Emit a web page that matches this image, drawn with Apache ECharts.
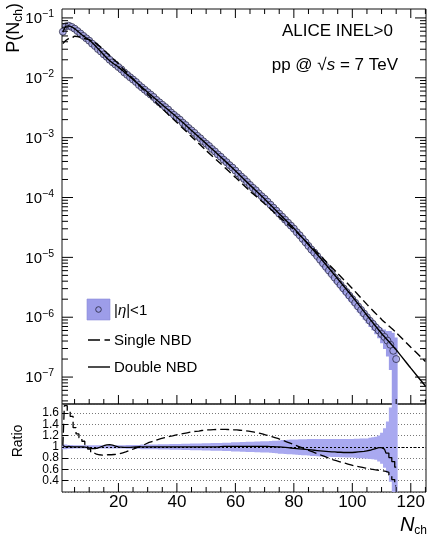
<!DOCTYPE html>
<html>
<head>
<meta charset="utf-8">
<script src="https://cdn.jsdelivr.net/npm/echarts@6/dist/echarts.min.js"></script>
<style>
  html, body { margin: 0; padding: 0; background: #fff; }
  #chart { width: 428px; height: 535px; }
</style>
</head>
<body>
<div id="chart"></div>
<script>
// Charged-particle multiplicity N_ch in |eta|<1, pp at 7 TeV, INEL>0
const nch = Array.from({ length: 115 }, (_, i) => i + 1);

// Measured P(N_ch), one value per N_ch bin
const probability = [
  5.89e-2, 7.24e-2, 7.41e-2, 7.08e-2, 6.61e-2, 6.03e-2, 5.50e-2, 5.01e-2, 4.57e-2, 4.17e-2,
  3.72e-2, 3.39e-2, 3.02e-2, 2.75e-2, 2.46e-2, 2.24e-2, 2.00e-2, 1.82e-2, 1.66e-2, 1.51e-2,
  1.38e-2, 1.23e-2, 1.12e-2, 1.02e-2, 9.33e-3, 8.51e-3, 7.59e-3, 6.92e-3, 6.31e-3, 5.75e-3,
  5.25e-3, 4.79e-3, 4.27e-3, 3.89e-3, 3.55e-3, 3.24e-3, 2.95e-3, 2.63e-3, 2.40e-3, 2.19e-3,
  2.00e-3, 1.78e-3, 1.62e-3, 1.45e-3, 1.32e-3, 1.20e-3, 1.07e-3, 9.77e-4, 8.71e-4, 7.94e-4,
  7.24e-4, 6.46e-4, 5.89e-4, 5.25e-4, 4.79e-4, 4.27e-4, 3.89e-4, 3.47e-4, 3.16e-4, 2.82e-4,
  2.51e-4, 2.24e-4, 2.04e-4, 1.82e-4, 1.62e-4, 1.45e-4, 1.32e-4, 1.17e-4, 1.05e-4, 9.55e-5,
  8.51e-5, 7.59e-5, 6.76e-5, 6.03e-5, 5.37e-5, 4.79e-5, 4.27e-5, 3.80e-5, 3.39e-5, 3.02e-5,
  2.63e-5, 2.34e-5, 2.04e-5, 1.78e-5, 1.55e-5, 1.35e-5, 1.20e-5, 1.05e-5, 9.12e-6, 7.94e-6,
  6.92e-6, 6.03e-6, 5.25e-6, 4.57e-6, 3.98e-6, 3.47e-6, 3.02e-6, 2.63e-6, 2.29e-6, 2.00e-6,
  1.74e-6, 1.51e-6, 1.32e-6, 1.15e-6, 1.00e-6, 8.71e-7, 7.76e-7, 6.76e-7, 6.03e-7, 5.25e-7,
  4.68e-7, 4.07e-7, 3.47e-7, 2.75e-7, 2.00e-7
];

// Relative uncertainty of each bin (upward / downward)
const errUp = [
  0.04, 0.04, 0.035, 0.035, 0.03, 0.03, 0.03, 0.03, 0.03, 0.03,
  0.03, 0.03, 0.03, 0.03, 0.03, 0.03, 0.03, 0.03, 0.03, 0.03,
  0.03, 0.03, 0.035, 0.035, 0.035, 0.035, 0.035, 0.04, 0.04, 0.04,
  0.04, 0.04, 0.04, 0.045, 0.045, 0.045, 0.045, 0.05, 0.05, 0.05,
  0.05, 0.055, 0.055, 0.055, 0.06, 0.06, 0.06, 0.06, 0.065, 0.065,
  0.065, 0.07, 0.07, 0.07, 0.07, 0.075, 0.075, 0.075, 0.08, 0.08,
  0.08, 0.085, 0.085, 0.09, 0.09, 0.09, 0.095, 0.095, 0.1, 0.1,
  0.1, 0.105, 0.11, 0.11, 0.115, 0.12, 0.12, 0.125, 0.13, 0.13,
  0.13, 0.135, 0.135, 0.135, 0.14, 0.14, 0.14, 0.14, 0.14, 0.14,
  0.14, 0.14, 0.14, 0.14, 0.14, 0.14, 0.14, 0.14, 0.14, 0.14,
  0.145, 0.145, 0.15, 0.15, 0.15, 0.16, 0.17, 0.18, 0.2, 0.25,
  0.33, 0.45, 0.7, 1.0, 1.3
];
const errDown = [
  0.04, 0.04, 0.035, 0.035, 0.03, 0.03, 0.03, 0.03, 0.03, 0.03,
  0.03, 0.03, 0.03, 0.03, 0.03, 0.03, 0.03, 0.03, 0.03, 0.03,
  0.03, 0.03, 0.035, 0.035, 0.035, 0.035, 0.035, 0.04, 0.04, 0.04,
  0.04, 0.04, 0.04, 0.045, 0.045, 0.045, 0.045, 0.05, 0.05, 0.05,
  0.05, 0.055, 0.055, 0.055, 0.06, 0.06, 0.06, 0.06, 0.065, 0.065,
  0.065, 0.07, 0.07, 0.07, 0.07, 0.075, 0.075, 0.075, 0.08, 0.08,
  0.08, 0.085, 0.085, 0.09, 0.09, 0.09, 0.095, 0.095, 0.1, 0.1,
  0.1, 0.105, 0.11, 0.115, 0.12, 0.12, 0.125, 0.13, 0.13, 0.135,
  0.14, 0.145, 0.15, 0.15, 0.155, 0.16, 0.16, 0.165, 0.17, 0.17,
  0.175, 0.175, 0.18, 0.18, 0.18, 0.185, 0.185, 0.19, 0.19, 0.19,
  0.195, 0.2, 0.2, 0.205, 0.21, 0.215, 0.22, 0.23, 0.26, 0.3,
  0.37, 0.46, 0.62, 0.99, 0.99
];

// Single NBD fit
const singleN = [1, 2, 3, 4, 5, 6, 7, 8, 10, 12, 14, 16, 18, 20, 22, 25, 30, 35, 40, 45, 50, 55, 60,
  65, 70, 75, 80, 85, 90, 95, 100, 105, 110, 115, 120, 125];
const singleP = [3.72e-2, 4.19e-2, 4.52e-2, 4.59e-2, 4.93e-2, 4.90e-2, 4.74e-2, 4.56e-2, 4.35e-2,
  3.89e-2, 3.22e-2, 2.61e-2, 2.10e-2, 1.72e-2, 1.35e-2, 9.62e-3, 5.33e-3, 3.06e-3, 1.79e-3,
  1.04e-3, 6.11e-4, 3.66e-4, 2.17e-4, 1.28e-4, 7.89e-5, 4.75e-5, 2.93e-5, 1.67e-5, 9.57e-6,
  5.38e-6, 3.02e-6, 1.64e-6, 9.20e-7, 5.55e-7, 3.16e-7, 1.82e-7];

// Double NBD fit
const doubleN = [1, 2, 3, 4, 5, 6, 7, 8, 10, 12, 14, 16, 18, 20, 22, 25, 30, 35, 40, 45, 50, 55, 60,
  65, 70, 75, 80, 85, 90, 95, 100, 105, 110, 115, 120, 125];
const doubleP = [5.75e-2, 7.24e-2, 7.33e-2, 7.08e-2, 6.61e-2, 6.03e-2, 5.50e-2, 5.01e-2, 4.27e-2,
  3.47e-2, 2.72e-2, 2.15e-2, 1.77e-2, 1.51e-2, 1.245e-2, 9.33e-3, 5.75e-3, 3.55e-3, 2.19e-3,
  1.32e-3, 7.94e-4, 4.76e-4, 2.79e-4, 1.61e-4, 9.46e-5, 5.37e-5, 3.08e-5, 1.63e-5, 8.63e-6,
  4.40e-6, 2.22e-6, 1.08e-6, 5.36e-7, 2.85e-7, 1.41e-7, 7.08e-8];

// Data / fit ratios per N_ch bin
const ratioSingle = [
  1.02, 1.73, 1.64, 1.54, 1.34, 1.23, 1.16, 1.10, 1.04, 0.96,
  0.90, 0.87, 0.86, 0.855, 0.855, 0.86, 0.86, 0.865, 0.87, 0.88,
  0.895, 0.91, 0.93, 0.95, 0.97, 0.99, 1.01, 1.03, 1.055, 1.08,
  1.095, 1.11, 1.13, 1.145, 1.16, 1.17, 1.185, 1.195, 1.21, 1.22,
  1.23, 1.24, 1.25, 1.26, 1.27, 1.275, 1.28, 1.29, 1.295, 1.30,
  1.303, 1.306, 1.308, 1.31, 1.31, 1.31, 1.308, 1.306, 1.303, 1.30,
  1.295, 1.29, 1.285, 1.278, 1.27, 1.26, 1.25, 1.24, 1.225, 1.21,
  1.195, 1.18, 1.165, 1.15, 1.13, 1.11, 1.09, 1.07, 1.05, 1.03,
  1.01, 0.99, 0.97, 0.95, 0.93, 0.91, 0.89, 0.87, 0.85, 0.83,
  0.81, 0.79, 0.77, 0.755, 0.74, 0.725, 0.71, 0.695, 0.68, 0.665,
  0.655, 0.645, 0.635, 0.625, 0.615, 0.605, 0.597, 0.59, 0.582, 0.575,
  0.565, 0.55, 0.50, 0.42, 0.31
];
const ratioDouble = [
  1.02, 1.0, 1.01, 1.0, 1.0, 1.0, 1.0, 1.0, 0.99, 0.98,
  0.97, 0.97, 0.98, 1.0, 1.02, 1.035, 1.04, 1.03, 1.015, 1.0,
  0.995, 0.99, 0.99, 0.99, 0.995, 1.0, 1.0, 1.0, 1.0, 1.0,
  1.0, 1.0, 1.0, 1.0, 1.0, 1.0, 1.0, 1.0, 1.0, 1.0,
  1.0, 1.0, 1.0, 1.0, 1.0, 1.0, 1.0, 1.0, 1.0, 1.0,
  1.0, 1.0, 1.0, 1.0, 1.005, 1.01, 1.01, 1.01, 1.01, 1.01,
  1.01, 1.01, 1.01, 1.01, 1.01, 1.01, 1.01, 1.01, 1.01, 1.01,
  1.01, 1.005, 1.005, 1.0, 1.0, 0.995, 0.99, 0.985, 0.98, 0.975,
  0.97, 0.965, 0.96, 0.955, 0.95, 0.945, 0.94, 0.935, 0.93, 0.925,
  0.92, 0.915, 0.91, 0.91, 0.905, 0.905, 0.9, 0.9, 0.9, 0.9,
  0.905, 0.91, 0.915, 0.92, 0.93, 0.94, 0.955, 0.97, 0.985, 0.985,
  0.96, 0.89, 0.81, 0.74, 0.64
];

// Axis ranges
const X_MIN = 0.7, X_MAX = 125.2;
const P_MIN = 3.55e-8, P_MAX = 0.141;
const R_MIN = 0.2, R_MAX = 1.76;
const xTickLabels = [20, 40, 60, 80, 100, 120];

const FONT = '"Liberation Sans", Arial, Helvetica, sans-serif';
const BAND = '#9d9de9';
const BAND_RATIO = '#a9a9f0';
const MARK_FILL = '#a2a2e6';
const MARK_EDGE = '#2e2e4a';

function seg(x1, y1, x2, y2, w) {
  return { type: 'line', shape: { x1, y1, x2, y2 }, style: { stroke: '#000', lineWidth: w || 1 } };
}

// Stepped error band: one box per bin, joined into a single outline
function bandOutline(api, hi, lo) {
  const up = [], down = [];
  for (let i = 0; i < nch.length; i++) {
    const a = Math.max(nch[i] - 0.5, X_MIN), b = nch[i] + 0.5;
    up.push(api.coord([a, hi[i]]), api.coord([b, hi[i]]));
    down.push(api.coord([a, lo[i]]), api.coord([b, lo[i]]));
  }
  return up.concat(down.reverse());
}

const topHi = probability.map((p, i) => Math.min(p * (1 + errUp[i]), P_MAX));
const topLo = probability.map((p, i) => Math.max(p * (1 - errDown[i]), P_MIN));
const ratioHi = errUp.map(e => Math.min(1 + e, R_MAX));
const ratioLo = errDown.map(e => Math.max(1 - e, R_MIN));

// Log-axis frame ticks, decade labels and N_ch ticks of the upper pad
function topFrame(params, api) {
  const children = [];
  const [xl, yb] = api.coord([X_MIN, P_MIN]);
  const [xr, yt] = api.coord([X_MAX, P_MAX]);
  for (let d = -8; d <= 0; d++) {
    for (let m = 1; m <= 9; m++) {
      const v = m * Math.pow(10, d);
      if (v < P_MIN || v > P_MAX) continue;
      const y = api.coord([X_MIN, v])[1];
      const len = m === 1 ? 11 : 6;
      children.push(seg(xl, y, xl + len, y), seg(xr - len, y, xr, y));
      if (m === 1) {
        children.push({
          type: 'text', x: xl - 8, y: y + 1,
          style: {
            text: '{b|10}{s|\u2212' + (-d) + '}',
            align: 'right', verticalAlign: 'middle',
            textAlign: 'right', textVerticalAlign: 'middle',
            rich: {
              b: { fontSize: 15, fontFamily: FONT, color: '#000', lineHeight: 20 },
              s: { fontSize: 10.5, fontFamily: FONT, color: '#000', verticalAlign: 'top', lineHeight: 11 }
            }
          }
        });
      }
    }
  }
  for (let n = 5; n <= X_MAX; n += 5) {
    const x = api.coord([n, P_MIN])[0];
    const len = n % 20 === 0 ? 9 : 5;
    children.push(seg(x, yb, x, yb - len), seg(x, yt, x, yt + len));
  }
  return { type: 'group', children };
}

// N_ch ticks and labels of the ratio pad
function ratioFrame(params, api) {
  const children = [];
  const yb = api.coord([X_MIN, R_MIN])[1];
  for (let n = 5; n <= X_MAX; n += 5) {
    const x = api.coord([n, R_MIN])[0];
    const len = n % 20 === 0 ? 9 : 5;
    children.push(seg(x, yb, x, yb - len));
  }
  xTickLabels.forEach(n => {
    const x = api.coord([n, R_MIN])[0];
    children.push({
      type: 'text', x: x, y: yb + 10,
      style: {
        text: String(n), font: '17px ' + FONT, fill: '#000',
        align: 'center', verticalAlign: 'middle', textAlign: 'center', textVerticalAlign: 'middle'
      }
    });
  });
  return { type: 'group', children };
}

const chart = echarts.init(document.getElementById('chart'), null, { renderer: 'canvas' });

const hiddenAxis = {
  axisLine: { show: false }, axisTick: { show: false },
  axisLabel: { show: false }, splitLine: { show: false }
};

chart.setOption({
  animation: false,
  backgroundColor: '#fff',
  grid: [
    { left: 62, top: 9, width: 364, height: 395, show: true, borderColor: '#111', borderWidth: 1, backgroundColor: 'transparent' },
    { left: 62, top: 404, width: 364, height: 88, show: true, borderColor: '#111', borderWidth: 1, backgroundColor: 'transparent' }
  ],
  xAxis: [
    Object.assign({ gridIndex: 0, type: 'value', min: X_MIN, max: X_MAX }, hiddenAxis),
    Object.assign({ gridIndex: 1, type: 'value', min: X_MIN, max: X_MAX }, hiddenAxis)
  ],
  yAxis: [
    Object.assign({ gridIndex: 0, type: 'log', logBase: 10, min: P_MIN, max: P_MAX }, hiddenAxis),
    {
      gridIndex: 1, type: 'value', min: R_MIN, max: R_MAX, interval: 0.2,
      axisLine: { show: false },
      axisTick: { show: true, inside: true, length: 6, lineStyle: { color: '#000' } },
      axisLabel: {
        fontSize: 12, fontFamily: FONT, color: '#000', margin: 3,
        showMinLabel: false, showMaxLabel: false,
        formatter: v => (Math.abs(v - 1) < 1e-6 ? '1' : v.toFixed(1))
      },
      splitLine: { show: true, lineStyle: { type: [1, 2], color: '#555', width: 0.8 } }
    }
  ],
  series: [
    {
      type: 'custom', xAxisIndex: 0, yAxisIndex: 0, silent: true, z: 1,
      data: [[X_MIN, P_MIN]],
      renderItem: (params, api) => ({
        type: 'polygon', shape: { points: bandOutline(api, topHi, topLo) },
        style: { fill: BAND, stroke: null }
      })
    },
    {
      name: '|η|<1', type: 'scatter', xAxisIndex: 0, yAxisIndex: 0, z: 2,
      symbol: 'circle', symbolSize: 7,
      itemStyle: { color: MARK_FILL, borderColor: MARK_EDGE, borderWidth: 1 },
      data: nch.map((n, i) => [n, probability[i]])
    },
    {
      name: 'Single NBD', type: 'line', xAxisIndex: 0, yAxisIndex: 0, z: 3,
      showSymbol: false, smooth: 0.2,
      lineStyle: { color: '#000', width: 1.4, type: [8, 4] },
      data: singleN.map((n, i) => [n, singleP[i]])
    },
    {
      name: 'Double NBD', type: 'line', xAxisIndex: 0, yAxisIndex: 0, z: 3,
      showSymbol: false, smooth: 0.2,
      lineStyle: { color: '#000', width: 1.4 },
      data: doubleN.map((n, i) => [n, doubleP[i]])
    },
    {
      type: 'custom', xAxisIndex: 0, yAxisIndex: 0, silent: true, z: 6,
      data: [[X_MIN, P_MIN]], renderItem: topFrame
    },
    {
      type: 'custom', xAxisIndex: 1, yAxisIndex: 1, silent: true, z: 1,
      data: [[X_MIN, 1]],
      renderItem: (params, api) => ({
        type: 'polygon', shape: { points: bandOutline(api, ratioHi, ratioLo) },
        style: { fill: BAND_RATIO, stroke: null }
      })
    },
    {
      type: 'line', xAxisIndex: 1, yAxisIndex: 1, z: 3, step: 'middle',
      showSymbol: false,
      lineStyle: { color: '#000', width: 1.3, type: [9, 4] },
      data: nch.map((n, i) => [n, ratioSingle[i]])
    },
    {
      type: 'line', xAxisIndex: 1, yAxisIndex: 1, z: 3, step: 'middle',
      showSymbol: false,
      lineStyle: { color: '#000', width: 1.3 },
      data: nch.map((n, i) => [n, ratioDouble[i]]),
      markLine: {
        silent: true, symbol: 'none', label: { show: false },
        lineStyle: { type: [2, 2], color: '#000', width: 1.2 },
        data: [{ yAxis: 1 }]
      }
    },
    {
      type: 'custom', xAxisIndex: 1, yAxisIndex: 1, silent: true, z: 6,
      data: [[X_MIN, R_MIN]], renderItem: ratioFrame
    }
  ],
  graphic: {
    elements: [
      {
        type: 'text', x: 14, y: 3, rotation: Math.PI / 2,
        style: {
          text: '{a|P(N}{c|ch}{a|)}',
          align: 'right', verticalAlign: 'middle', textAlign: 'right', textVerticalAlign: 'middle',
          rich: {
            a: { fontSize: 18, fontFamily: FONT, color: '#000', lineHeight: 22 },
            c: { fontSize: 12, fontFamily: FONT, color: '#000', verticalAlign: 'bottom', lineHeight: 12 }
          }
        }
      },
      {
        type: 'text', x: 18, y: 441, rotation: Math.PI / 2,
        style: {
          text: 'Ratio', font: '14px ' + FONT, fill: '#000',
          align: 'center', verticalAlign: 'middle', textAlign: 'center', textVerticalAlign: 'middle'
        }
      },
      {
        type: 'text', x: 427, y: 525,
        style: {
          text: '{n|N}{c|ch}',
          align: 'right', verticalAlign: 'middle', textAlign: 'right', textVerticalAlign: 'middle',
          rich: {
            n: { fontSize: 20, fontStyle: 'italic', fontFamily: FONT, color: '#000', lineHeight: 24 },
            c: { fontSize: 12, fontFamily: FONT, color: '#000', verticalAlign: 'bottom', lineHeight: 12 }
          }
        }
      },
      {
        type: 'text', x: 393, y: 31,
        style: {
          text: 'ALICE INEL>0', font: '17px ' + FONT, fill: '#000',
          align: 'right', verticalAlign: 'middle', textAlign: 'right', textVerticalAlign: 'middle'
        }
      },
      {
        type: 'text', x: 398, y: 65,
        style: {
          text: '{r|pp @ √}{i|s}{r| = 7 TeV}',
          align: 'right', verticalAlign: 'middle', textAlign: 'right', textVerticalAlign: 'middle',
          rich: {
            r: { fontSize: 17, fontFamily: FONT, color: '#000' },
            i: { fontSize: 17, fontFamily: FONT, fontStyle: 'italic', color: '#000' }
          }
        }
      },
      // legend
      {
        type: 'rect', shape: { x: 87, y: 299, width: 23, height: 21 },
        style: { fill: BAND, stroke: '#8a8ad8', lineWidth: 0.6 }
      },
      {
        type: 'circle', shape: { cx: 98.5, cy: 309.5, r: 2.8 },
        style: { fill: 'none', stroke: MARK_EDGE, lineWidth: 0.9 }
      },
      {
        type: 'text', x: 114, y: 311,
        style: {
          text: '{r||}{i|η}{r||<1}',
          align: 'left', verticalAlign: 'middle', textAlign: 'left', textVerticalAlign: 'middle',
          rich: {
            r: { fontSize: 15, fontFamily: FONT, color: '#000' },
            i: { fontSize: 15, fontFamily: FONT, fontStyle: 'italic', color: '#000' }
          }
        }
      },
      {
        type: 'line', shape: { x1: 88, y1: 340, x2: 110, y2: 340 },
        style: { stroke: '#000', lineWidth: 1.4, lineDash: [12, 4.5] }
      },
      {
        type: 'text', x: 114, y: 341,
        style: {
          text: 'Single NBD', font: '15px ' + FONT, fill: '#000',
          align: 'left', verticalAlign: 'middle', textAlign: 'left', textVerticalAlign: 'middle'
        }
      },
      {
        type: 'line', shape: { x1: 88, y1: 367, x2: 110, y2: 367 },
        style: { stroke: '#000', lineWidth: 1.4 }
      },
      {
        type: 'text', x: 114, y: 368,
        style: {
          text: 'Double NBD', font: '15px ' + FONT, fill: '#000',
          align: 'left', verticalAlign: 'middle', textAlign: 'left', textVerticalAlign: 'middle'
        }
      }
    ]
  }
});
</script>
</body>
</html>
